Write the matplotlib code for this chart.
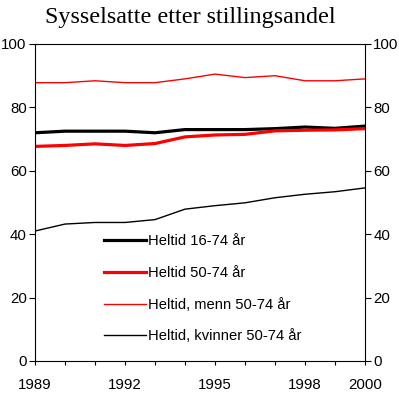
import matplotlib.pyplot as plt

years = list(range(1989, 2001))
heltid_16_74 = [72.0, 72.5, 72.5, 72.5, 72.0, 73.0, 73.0, 73.0, 73.3, 73.8, 73.4, 74.1]
heltid_50_74 = [67.7, 68.0, 68.5, 68.0, 68.6, 70.7, 71.3, 71.5, 72.6, 72.8, 72.9, 73.3]
menn_50_74 = [87.8, 87.8, 88.4, 87.8, 87.8, 89.0, 90.5, 89.4, 90.0, 88.4, 88.4, 89.0]
kvinner_50_74 = [41.0, 43.2, 43.7, 43.7, 44.6, 47.9, 49.0, 49.9, 51.5, 52.6, 53.4, 54.6]

xtick_labels = [1989, 1992, 1995, 1998, 2000]
yticks = [0, 20, 40, 60, 80, 100]

plt.rcParams['font.family'] = ['Liberation Sans', 'DejaVu Sans']

fig = plt.figure(figsize=(3.99, 3.93), dpi=100)
ax = fig.add_axes([35 / 399, 32 / 393, 330 / 399, 317 / 393])

ax.plot(years, heltid_16_74, color='black', lw=2.3, label='Heltid 16-74 år')
ax.plot(years, heltid_50_74, color='red', lw=2.3, label='Heltid 50-74 år')
ax.plot(years, menn_50_74, color='red', lw=1.0, label='Heltid, menn 50-74 år')
ax.plot(years, kvinner_50_74, color='black', lw=1.0, label='Heltid, kvinner 50-74 år')

ax.set_xlim(1989, 2000)
ax.set_ylim(0, 100)
ax.set_xticks(years, minor=True)
ax.set_xticks(xtick_labels)
ax.set_yticks(yticks)
ax.tick_params(axis='both', which='both', direction='out', width=0.8,
               labelsize=10.8, colors='black')
ax.tick_params(axis='x', which='both', length=3, pad=9)
ax.tick_params(axis='y', length=4, pad=2, right=True, labelright=True)
for s in ax.spines.values():
    s.set_linewidth(0.8)

leg = ax.legend(loc='upper left', bbox_to_anchor=(0.19, 0.418), frameon=False,
                fontsize=10.6, handlelength=2.9, handletextpad=0.1,
                labelspacing=1.2, borderaxespad=0)

fig.text(0.476, 0.955, 'Sysselsatte etter stillingsandel', ha='center', va='center',
         family='Liberation Serif', fontsize=17.4)

fig.savefig('out.png', dpi=100)
